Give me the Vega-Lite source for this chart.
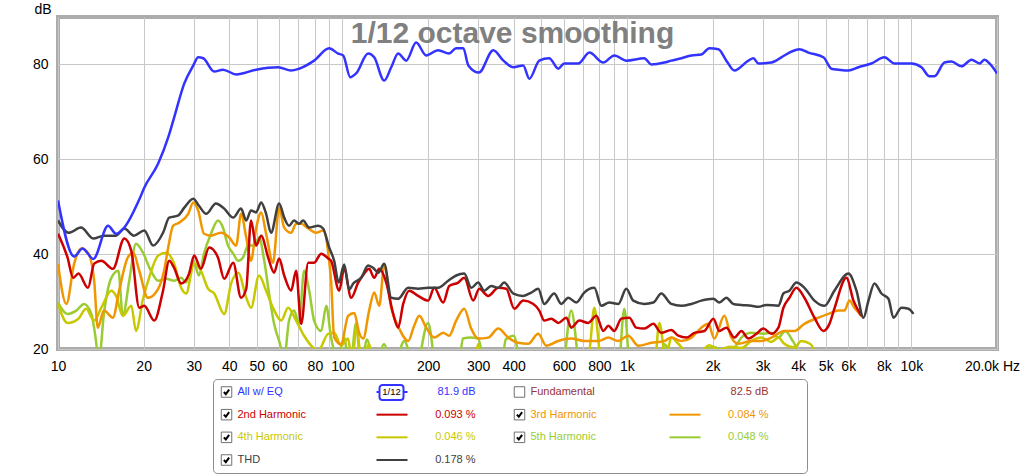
{
"$schema": "https://vega.github.io/schema/vega-lite/v6.json",
"padding": {"left": 30, "top": 0, "right": 0, "bottom": 0},
"config": {"view": {"stroke": null}, "font": "Liberation Sans"},
"resolve": {"scale": {"x": "independent", "y": "independent"}},
"spacing": 3,
"vconcat": [
{
"width": 939, "height": 332,
"view": {"stroke": "#acacac", "strokeWidth": 4},
"title": {"text": "1/12 octave smoothing", "font": "Liberation Sans", "fontSize": 30, "fontWeight": "bold", "color": "#808080", "anchor": "middle", "baseline": "alphabetic", "offset": 0, "dy": 71, "dx": -15},
"data": {"values": [
{"s":"H5","f":10,"d":29.8},{"s":"H5","f":10.8,"d":27.4},{"s":"H5","f":11.6,"d":28.1},{"s":"H5","f":12.35,"d":29.5},{"s":"H5","f":13.1,"d":27.4},{"s":"H5","f":13.6,"d":21.7},{"s":"H5","f":13.9,"d":17},{"s":"H5","f":14.5,"d":27.4},{"s":"H5","f":15.4,"d":35},{"s":"H5","f":16.3,"d":36.5},{"s":"H5","f":16.9,"d":27},{"s":"H5","f":17.8,"d":34.4},{"s":"H5","f":18.8,"d":42.2},{"s":"H5","f":19.9,"d":40.3},{"s":"H5","f":21.2,"d":36.5},{"s":"H5","f":22.5,"d":34.4},{"s":"H5","f":24,"d":34.8},{"s":"H5","f":25.6,"d":34.4},{"s":"H5","f":27.1,"d":35},{"s":"H5","f":28.2,"d":34},{"s":"H5","f":29.9,"d":38.6},{"s":"H5","f":31.3,"d":35.5},{"s":"H5","f":32.6,"d":40.1},{"s":"H5","f":34.5,"d":44.3},{"s":"H5","f":36.5,"d":47.1},{"s":"H5","f":38,"d":45.6},{"s":"H5","f":39.6,"d":41.8},{"s":"H5","f":41.3,"d":40.1},{"s":"H5","f":43,"d":38.6},{"s":"H5","f":44.7,"d":39.3},{"s":"H5","f":46.6,"d":41.8},{"s":"H5","f":48.9,"d":41.8},{"s":"H5","f":50.9,"d":43.5},{"s":"H5","f":53.1,"d":38.6},{"s":"H5","f":55.2,"d":31.7},{"s":"H5","f":57.5,"d":25.3},{"s":"H5","f":59.9,"d":21.7},{"s":"H5","f":62.4,"d":18},{"s":"H5","f":64.9,"d":26},{"s":"H5","f":67.6,"d":28.1},{"s":"H5","f":70.4,"d":25.3},{"s":"H5","f":73.3,"d":36.5},{"s":"H5","f":76.4,"d":32.3},{"s":"H5","f":79.5,"d":26},{"s":"H5","f":84.2,"d":23.8},{"s":"H5","f":87.7,"d":29.1},{"s":"H5","f":91.2,"d":22.4},{"s":"H5","f":96.6,"d":18},{"s":"H5","f":101.4,"d":22.4},{"s":"H5","f":106,"d":15},{"s":"H5","f":111.7,"d":25.5},{"s":"H5","f":116,"d":16},{"s":"H5","f":122,"d":22},{"s":"H5","f":130,"d":15},{"s":"H5","f":140,"d":21},{"s":"H5","f":150,"d":15},{"s":"H5","f":165,"d":21.7},{"s":"H5","f":180,"d":15},{"s":"H5","f":200,"d":25.5},{"s":"H5","f":215,"d":15},{"s":"H5","f":255,"d":15},{"s":"H5","f":265,"d":22.2},{"s":"H5","f":283,"d":22.4},{"s":"H5","f":300,"d":22.2},{"s":"H5","f":320,"d":15},{"s":"H5","f":360,"d":15},{"s":"H5","f":375,"d":22},{"s":"H5","f":400,"d":22.8},{"s":"H5","f":430,"d":15},{"s":"H5","f":590,"d":15},{"s":"H5","f":637,"d":28.1},{"s":"H5","f":690,"d":15},{"s":"H5","f":930,"d":15},{"s":"H5","f":979,"d":28.5},{"s":"H5","f":1030,"d":15},{"s":"H5","f":1300,"d":15},{"s":"H5","f":1350,"d":21},{"s":"H5","f":1432,"d":19.5},{"s":"H5","f":1550,"d":19},{"s":"H5","f":1700,"d":19.5},{"s":"H5","f":1827,"d":19.2},{"s":"H5","f":2014,"d":20.5},{"s":"H5","f":2200,"d":19.5},{"s":"H5","f":2400,"d":20.5},{"s":"H5","f":2526,"d":22.4},{"s":"H5","f":2739,"d":23.4},{"s":"H5","f":3018,"d":23.2},{"s":"H5","f":3220,"d":23.4},{"s":"H5","f":3408,"d":22.4},{"s":"H5","f":3600,"d":23.8},{"s":"H5","f":3800,"d":22},{"s":"H5","f":3943,"d":20},{"s":"H5","f":4050,"d":14},
{"s":"H4","f":10,"d":29.5},{"s":"H4","f":10.8,"d":25.5},{"s":"H4","f":11.8,"d":26.4},{"s":"H4","f":12.55,"d":28.5},{"s":"H4","f":13.4,"d":26},{"s":"H4","f":14.2,"d":28.7},{"s":"H4","f":15.4,"d":32.3},{"s":"H4","f":16,"d":31.2},{"s":"H4","f":16.9,"d":27},{"s":"H4","f":18.1,"d":29.1},{"s":"H4","f":18.8,"d":23.8},{"s":"H4","f":19.9,"d":30.6},{"s":"H4","f":20.9,"d":35},{"s":"H4","f":22.5,"d":39.7},{"s":"H4","f":24,"d":40.3},{"s":"H4","f":25.6,"d":38},{"s":"H4","f":27.1,"d":32.9},{"s":"H4","f":28.2,"d":31.7},{"s":"H4","f":30.1,"d":38},{"s":"H4","f":31.8,"d":36.5},{"s":"H4","f":33.7,"d":32.7},{"s":"H4","f":35.4,"d":31.7},{"s":"H4","f":38.4,"d":27.4},{"s":"H4","f":40.6,"d":33.8},{"s":"H4","f":43,"d":36.1},{"s":"H4","f":45.9,"d":30.8},{"s":"H4","f":47.7,"d":28.7},{"s":"H4","f":50.9,"d":35.5},{"s":"H4","f":53.9,"d":32.3},{"s":"H4","f":57,"d":28.7},{"s":"H4","f":60.9,"d":26},{"s":"H4","f":64.4,"d":28.7},{"s":"H4","f":68.7,"d":26},{"s":"H4","f":73.3,"d":22.8},{"s":"H4","f":78.9,"d":20.3},{"s":"H4","f":82.1,"d":19.6},{"s":"H4","f":89.1,"d":23.2},{"s":"H4","f":93.5,"d":23.4},{"s":"H4","f":98.9,"d":20.7},{"s":"H4","f":104.7,"d":22.2},{"s":"H4","f":108,"d":17},{"s":"H4","f":112,"d":24.5},{"s":"H4","f":117,"d":17},{"s":"H4","f":124,"d":21},{"s":"H4","f":130,"d":14},{"s":"H4","f":290,"d":14},{"s":"H4","f":300,"d":21},{"s":"H4","f":312,"d":14},{"s":"H4","f":700,"d":14},{"s":"H4","f":740,"d":20},{"s":"H4","f":768,"d":28.7},{"s":"H4","f":800,"d":20},{"s":"H4","f":830,"d":14},{"s":"H4","f":1240,"d":14},{"s":"H4","f":1300,"d":25.5},{"s":"H4","f":1370,"d":18},{"s":"H4","f":1432,"d":22.4},{"s":"H4","f":1516,"d":21.1},{"s":"H4","f":1618,"d":19.5},{"s":"H4","f":1800,"d":19.3},{"s":"H4","f":1950,"d":20.8},{"s":"H4","f":2100,"d":19.8},{"s":"H4","f":2300,"d":20.5},{"s":"H4","f":2526,"d":20.2},{"s":"H4","f":2739,"d":21.7},{"s":"H4","f":2970,"d":22.4},{"s":"H4","f":3220,"d":21.5},{"s":"H4","f":3408,"d":22.4},{"s":"H4","f":3576,"d":21.1},{"s":"H4","f":3880,"d":20.3},{"s":"H4","f":4100,"d":21.7},{"s":"H4","f":4400,"d":21.1},{"s":"H4","f":4560,"d":19.6},{"s":"H4","f":4700,"d":14},
{"s":"H3","f":10,"d":38},{"s":"H3","f":10.7,"d":29.5},{"s":"H3","f":11.4,"d":38},{"s":"H3","f":12.05,"d":41.2},{"s":"H3","f":12.75,"d":40.3},{"s":"H3","f":13.4,"d":34.4},{"s":"H3","f":13.8,"d":24.5},{"s":"H3","f":14.5,"d":28.1},{"s":"H3","f":15.6,"d":26.6},{"s":"H3","f":16.4,"d":32.3},{"s":"H3","f":17.6,"d":39.3},{"s":"H3","f":18.4,"d":40.3},{"s":"H3","f":19.3,"d":36.5},{"s":"H3","f":20.7,"d":30.8},{"s":"H3","f":22.5,"d":32.7},{"s":"H3","f":23.6,"d":36.5},{"s":"H3","f":24.4,"d":41.4},{"s":"H3","f":25.4,"d":46},{"s":"H3","f":26.6,"d":46.6},{"s":"H3","f":28.7,"d":48.5},{"s":"H3","f":29.9,"d":50.9},{"s":"H3","f":31.1,"d":49.2},{"s":"H3","f":32.6,"d":44.3},{"s":"H3","f":34.5,"d":43.9},{"s":"H3","f":37.4,"d":44.5},{"s":"H3","f":40,"d":43.5},{"s":"H3","f":42.3,"d":41.8},{"s":"H3","f":44,"d":48.5},{"s":"H3","f":45.9,"d":43.5},{"s":"H3","f":47.7,"d":38.6},{"s":"H3","f":49.7,"d":45.4},{"s":"H3","f":51.8,"d":48.8},{"s":"H3","f":53.9,"d":44.3},{"s":"H3","f":57,"d":38.2},{"s":"H3","f":59.9,"d":49.8},{"s":"H3","f":62.4,"d":45.6},{"s":"H3","f":66,"d":44.5},{"s":"H3","f":68.7,"d":46.4},{"s":"H3","f":71.6,"d":46.4},{"s":"H3","f":75.8,"d":45.4},{"s":"H3","f":80.8,"d":44.5},{"s":"H3","f":85.5,"d":45},{"s":"H3","f":89.8,"d":38.6},{"s":"H3","f":91.2,"d":34.4},{"s":"H3","f":93.5,"d":22.5},{"s":"H3","f":98.9,"d":21},{"s":"H3","f":104.7,"d":27},{"s":"H3","f":110,"d":27.6},{"s":"H3","f":114.5,"d":23.4},{"s":"H3","f":118.3,"d":22.2},{"s":"H3","f":124.1,"d":28.1},{"s":"H3","f":129.3,"d":31.9},{"s":"H3","f":134.7,"d":29.1},{"s":"H3","f":140.2,"d":37.6},{"s":"H3","f":148.4,"d":28.7},{"s":"H3","f":158.3,"d":24.3},{"s":"H3","f":170.2,"d":21.7},{"s":"H3","f":178.7,"d":24.9},{"s":"H3","f":186.2,"d":27},{"s":"H3","f":197,"d":24.5},{"s":"H3","f":210.2,"d":22.4},{"s":"H3","f":226.1,"d":23.4},{"s":"H3","f":237.3,"d":22.8},{"s":"H3","f":251.1,"d":26},{"s":"H3","f":268,"d":28.5},{"s":"H3","f":283.6,"d":24.3},{"s":"H3","f":300.1,"d":22.2},{"s":"H3","f":325.4,"d":22.4},{"s":"H3","f":352.9,"d":24.3},{"s":"H3","f":382.7,"d":22.4},{"s":"H3","f":415,"d":21.3},{"s":"H3","f":450,"d":21.1},{"s":"H3","f":487.9,"d":23.2},{"s":"H3","f":520.6,"d":20.7},{"s":"H3","f":573.9,"d":21.7},{"s":"H3","f":637.6,"d":22.2},{"s":"H3","f":708.2,"d":21.7},{"s":"H3","f":793.3,"d":21.7},{"s":"H3","f":860.2,"d":22.4},{"s":"H3","f":932.8,"d":21.7},{"s":"H3","f":1011,"d":22.8},{"s":"H3","f":1097,"d":20.7},{"s":"H3","f":1218,"d":21.3},{"s":"H3","f":1354,"d":21.7},{"s":"H3","f":1432,"d":22.4},{"s":"H3","f":1554,"d":21.7},{"s":"H3","f":1685,"d":22.4},{"s":"H3","f":1827,"d":24.5},{"s":"H3","f":1933,"d":25.3},{"s":"H3","f":2029,"d":22.2},{"s":"H3","f":2200,"d":27},{"s":"H3","f":2329,"d":22.4},{"s":"H3","f":2465,"d":21.1},{"s":"H3","f":2739,"d":21.7},{"s":"H3","f":2970,"d":21.7},{"s":"H3","f":3220,"d":22.4},{"s":"H3","f":3576,"d":23.8},{"s":"H3","f":3880,"d":23.8},{"s":"H3","f":4207,"d":25.3},{"s":"H3","f":4713,"d":26.6},{"s":"H3","f":5111,"d":27.4},{"s":"H3","f":5541,"d":28.1},{"s":"H3","f":5817,"d":28.1},{"s":"H3","f":6058,"d":30.2},{"s":"H3","f":6308,"d":28.7},{"s":"H3","f":6674,"d":27},
{"s":"H2","f":10,"d":44.3},{"s":"H2","f":10.8,"d":39.3},{"s":"H2","f":11.3,"d":35},{"s":"H2","f":11.8,"d":35.9},{"s":"H2","f":12.75,"d":32.9},{"s":"H2","f":13.4,"d":38},{"s":"H2","f":14.2,"d":38.6},{"s":"H2","f":15.6,"d":36.9},{"s":"H2","f":17.1,"d":43.3},{"s":"H2","f":18.1,"d":40.7},{"s":"H2","f":19.3,"d":28.7},{"s":"H2","f":20.1,"d":29.1},{"s":"H2","f":21.8,"d":26},{"s":"H2","f":23.4,"d":32.3},{"s":"H2","f":24.6,"d":38.6},{"s":"H2","f":25.6,"d":37.1},{"s":"H2","f":27.1,"d":33.8},{"s":"H2","f":28.9,"d":35.9},{"s":"H2","f":30.1,"d":39.7},{"s":"H2","f":31.8,"d":36.9},{"s":"H2","f":34,"d":41.4},{"s":"H2","f":36.5,"d":39.3},{"s":"H2","f":38.4,"d":34.8},{"s":"H2","f":41.3,"d":38.2},{"s":"H2","f":44,"d":30.8},{"s":"H2","f":45.9,"d":32.7},{"s":"H2","f":47.7,"d":47.1},{"s":"H2","f":49.7,"d":41.8},{"s":"H2","f":51.8,"d":43.9},{"s":"H2","f":54.8,"d":39.3},{"s":"H2","f":57.5,"d":36.1},{"s":"H2","f":59.9,"d":39.1},{"s":"H2","f":62.4,"d":35.5},{"s":"H2","f":66,"d":32.3},{"s":"H2","f":68.7,"d":36.5},{"s":"H2","f":71.6,"d":25.3},{"s":"H2","f":75.8,"d":38.2},{"s":"H2","f":79.5,"d":38.2},{"s":"H2","f":84.2,"d":40.1},{"s":"H2","f":89.1,"d":39.1},{"s":"H2","f":91.2,"d":38.6},{"s":"H2","f":97.4,"d":32.3},{"s":"H2","f":101.4,"d":36.9},{"s":"H2","f":107.3,"d":30.8},{"s":"H2","f":113.6,"d":34},{"s":"H2","f":119.2,"d":35.9},{"s":"H2","f":124.1,"d":36.9},{"s":"H2","f":129.3,"d":35},{"s":"H2","f":134.7,"d":36.9},{"s":"H2","f":142.5,"d":34},{"s":"H2","f":150.8,"d":27.4},{"s":"H2","f":157,"d":24.5},{"s":"H2","f":163.5,"d":29.5},{"s":"H2","f":171.6,"d":32.3},{"s":"H2","f":184.6,"d":31.2},{"s":"H2","f":200.2,"d":30.2},{"s":"H2","f":210.2,"d":32.9},{"s":"H2","f":226.1,"d":29.8},{"s":"H2","f":237.3,"d":33.3},{"s":"H2","f":255.2,"d":34},{"s":"H2","f":268,"d":35},{"s":"H2","f":288.3,"d":30.2},{"s":"H2","f":302.5,"d":32.7},{"s":"H2","f":325.4,"d":31.2},{"s":"H2","f":352.9,"d":32.9},{"s":"H2","f":376.6,"d":32.7},{"s":"H2","f":401.8,"d":28.5},{"s":"H2","f":432.1,"d":30.2},{"s":"H2","f":468.7,"d":29.5},{"s":"H2","f":491.9,"d":28.1},{"s":"H2","f":512.2,"d":26},{"s":"H2","f":542.3,"d":26.4},{"s":"H2","f":573.9,"d":25.5},{"s":"H2","f":612.3,"d":26.6},{"s":"H2","f":637.6,"d":24.5},{"s":"H2","f":680.2,"d":26},{"s":"H2","f":731.6,"d":25.5},{"s":"H2","f":780.5,"d":27},{"s":"H2","f":826.1,"d":23.8},{"s":"H2","f":860.2,"d":24.9},{"s":"H2","f":903.1,"d":23.8},{"s":"H2","f":955.6,"d":26.4},{"s":"H2","f":1020,"d":26.6},{"s":"H2","f":1079,"d":24.5},{"s":"H2","f":1151,"d":24.3},{"s":"H2","f":1238,"d":25.3},{"s":"H2","f":1321,"d":23.4},{"s":"H2","f":1432,"d":24},{"s":"H2","f":1516,"d":22.8},{"s":"H2","f":1618,"d":22.4},{"s":"H2","f":1727,"d":23.4},{"s":"H2","f":1872,"d":23.8},{"s":"H2","f":2014,"d":26.4},{"s":"H2","f":2113,"d":23.8},{"s":"H2","f":2237,"d":24.5},{"s":"H2","f":2387,"d":22.4},{"s":"H2","f":2526,"d":23.8},{"s":"H2","f":2673,"d":22.2},{"s":"H2","f":2852,"d":23.2},{"s":"H2","f":3018,"d":24.3},{"s":"H2","f":3220,"d":23.2},{"s":"H2","f":3408,"d":24.5},{"s":"H2","f":3549,"d":28.7},{"s":"H2","f":3726,"d":30.8},{"s":"H2","f":3943,"d":32.9},{"s":"H2","f":4207,"d":30.8},{"s":"H2","f":4562,"d":26.6},{"s":"H2","f":4907,"d":23.8},{"s":"H2","f":5152,"d":25.3},{"s":"H2","f":5363,"d":28.5},{"s":"H2","f":5911,"d":35},{"s":"H2","f":6258,"d":30.2},{"s":"H2","f":6674,"d":27},
{"s":"THD","f":10,"d":47.1},{"s":"THD","f":10.9,"d":44.5},{"s":"THD","f":12.05,"d":45.6},{"s":"THD","f":13.3,"d":43.3},{"s":"THD","f":14.5,"d":43.9},{"s":"THD","f":16,"d":43.9},{"s":"THD","f":17.1,"d":45.4},{"s":"THD","f":18.5,"d":43.9},{"s":"THD","f":20.1,"d":45},{"s":"THD","f":21.6,"d":41.8},{"s":"THD","f":23.4,"d":44.5},{"s":"THD","f":24.6,"d":47.7},{"s":"THD","f":26.4,"d":48.1},{"s":"THD","f":27.8,"d":49.8},{"s":"THD","f":29.9,"d":51.7},{"s":"THD","f":31.3,"d":50.2},{"s":"THD","f":33.2,"d":48.5},{"s":"THD","f":35.9,"d":50.7},{"s":"THD","f":38.4,"d":49.6},{"s":"THD","f":41.3,"d":47.7},{"s":"THD","f":44,"d":49.6},{"s":"THD","f":45.9,"d":47.1},{"s":"THD","f":47.7,"d":49.2},{"s":"THD","f":49.7,"d":48.8},{"s":"THD","f":51.8,"d":50.9},{"s":"THD","f":53.9,"d":48.5},{"s":"THD","f":56.1,"d":44.5},{"s":"THD","f":59.9,"d":50.7},{"s":"THD","f":62.4,"d":47.7},{"s":"THD","f":64.9,"d":46},{"s":"THD","f":67.6,"d":47.1},{"s":"THD","f":70.4,"d":46.4},{"s":"THD","f":72.7,"d":47.1},{"s":"THD","f":76.4,"d":45.6},{"s":"THD","f":82.1,"d":46},{"s":"THD","f":85.5,"d":45.4},{"s":"THD","f":89.8,"d":41.4},{"s":"THD","f":93.5,"d":38.6},{"s":"THD","f":97,"d":34},{"s":"THD","f":101.4,"d":37.8},{"s":"THD","f":105.6,"d":32.5},{"s":"THD","f":109.1,"d":33.8},{"s":"THD","f":116.4,"d":35},{"s":"THD","f":123.1,"d":37.6},{"s":"THD","f":128.2,"d":37.1},{"s":"THD","f":133.6,"d":36.1},{"s":"THD","f":140.2,"d":38},{"s":"THD","f":148.4,"d":30.8},{"s":"THD","f":157,"d":30.6},{"s":"THD","f":170.2,"d":32.9},{"s":"THD","f":184.6,"d":32.7},{"s":"THD","f":200.2,"d":32.9},{"s":"THD","f":217.1,"d":32.9},{"s":"THD","f":235.4,"d":34.4},{"s":"THD","f":251.1,"d":35.5},{"s":"THD","f":268,"d":35.9},{"s":"THD","f":283.6,"d":32.9},{"s":"THD","f":300,"d":34},{"s":"THD","f":315,"d":32.3},{"s":"THD","f":333,"d":33.3},{"s":"THD","f":353,"d":32.9},{"s":"THD","f":370,"d":34},{"s":"THD","f":399,"d":31.7},{"s":"THD","f":432,"d":31.2},{"s":"THD","f":461,"d":31.9},{"s":"THD","f":488,"d":32.7},{"s":"THD","f":512,"d":29.5},{"s":"THD","f":555,"d":31.7},{"s":"THD","f":588,"d":29.5},{"s":"THD","f":622,"d":30.8},{"s":"THD","f":664,"d":29.8},{"s":"THD","f":708,"d":31.9},{"s":"THD","f":768,"d":32.9},{"s":"THD","f":813,"d":29.1},{"s":"THD","f":867,"d":29.8},{"s":"THD","f":933,"d":29.5},{"s":"THD","f":995,"d":32.7},{"s":"THD","f":1053,"d":30.2},{"s":"THD","f":1151,"d":29.5},{"s":"THD","f":1238,"d":29.8},{"s":"THD","f":1321,"d":31.7},{"s":"THD","f":1432,"d":29.5},{"s":"THD","f":1554,"d":29.1},{"s":"THD","f":1685,"d":29.5},{"s":"THD","f":1827,"d":30.2},{"s":"THD","f":2014,"d":30.6},{"s":"THD","f":2113,"d":29.8},{"s":"THD","f":2237,"d":30.8},{"s":"THD","f":2367,"d":29.5},{"s":"THD","f":2526,"d":29.3},{"s":"THD","f":2739,"d":29.1},{"s":"THD","f":2899,"d":28.9},{"s":"THD","f":3093,"d":29.3},{"s":"THD","f":3408,"d":29.1},{"s":"THD","f":3549,"d":31.7},{"s":"THD","f":3726,"d":32.3},{"s":"THD","f":3943,"d":34},{"s":"THD","f":4207,"d":32.9},{"s":"THD","f":4562,"d":30.2},{"s":"THD","f":4947,"d":29.1},{"s":"THD","f":5363,"d":32.3},{"s":"THD","f":6008,"d":35.9},{"s":"THD","f":6412,"d":32.3},{"s":"THD","f":6785,"d":26.6},{"s":"THD","f":7066,"d":30.2},{"s":"THD","f":7417,"d":33.8},{"s":"THD","f":7849,"d":31.7},{"s":"THD","f":8306,"d":30.6},{"s":"THD","f":8649,"d":26.6},{"s":"THD","f":9230,"d":28.7},{"s":"THD","f":9768,"d":28.5},{"s":"THD","f":10171,"d":27.4},
{"s":"All","f":10,"d":51.3},{"s":"All","f":11.4,"d":39.5},{"s":"All","f":12.2,"d":41.2},{"s":"All","f":13.3,"d":39},{"s":"All","f":15,"d":46},{"s":"All","f":16,"d":44.3},{"s":"All","f":17.1,"d":45.6},{"s":"All","f":19.3,"d":51.5},{"s":"All","f":20.1,"d":54},{"s":"All","f":22.5,"d":59.1},{"s":"All","f":24.4,"d":64.6},{"s":"All","f":25.6,"d":68.8},{"s":"All","f":27.8,"d":76},{"s":"All","f":29.9,"d":79.8},{"s":"All","f":31.1,"d":81.5},{"s":"All","f":32.4,"d":81.3},{"s":"All","f":35.4,"d":78.5},{"s":"All","f":38,"d":78.9},{"s":"All","f":42.3,"d":77.9},{"s":"All","f":49.7,"d":78.9},{"s":"All","f":59.4,"d":79.4},{"s":"All","f":66,"d":78.7},{"s":"All","f":70.4,"d":79.1},{"s":"All","f":79.5,"d":80.8},{"s":"All","f":89.8,"d":83.4},{"s":"All","f":96.5,"d":82.3},{"s":"All","f":100.6,"d":81.9},{"s":"All","f":106.5,"d":77.3},{"s":"All","f":111.7,"d":78.1},{"s":"All","f":123.1,"d":82.3},{"s":"All","f":129.3,"d":81.5},{"s":"All","f":140.2,"d":76.6},{"s":"All","f":148.4,"d":79.4},{"s":"All","f":157,"d":82.3},{"s":"All","f":167.5,"d":80.8},{"s":"All","f":181.6,"d":84.6},{"s":"All","f":197,"d":81.9},{"s":"All","f":217,"d":83},{"s":"All","f":237,"d":82.3},{"s":"All","f":251,"d":83.4},{"s":"All","f":266,"d":83.4},{"s":"All","f":277,"d":79.8},{"s":"All","f":302,"d":78.3},{"s":"All","f":339,"d":83},{"s":"All","f":368,"d":80.8},{"s":"All","f":399,"d":79.4},{"s":"All","f":432,"d":79.8},{"s":"All","f":454,"d":77},{"s":"All","f":492,"d":80.8},{"s":"All","f":533,"d":81.3},{"s":"All","f":574,"d":79.1},{"s":"All","f":602,"d":80.2},{"s":"All","f":675,"d":80.2},{"s":"All","f":738,"d":82.5},{"s":"All","f":826,"d":80.4},{"s":"All","f":903,"d":81.9},{"s":"All","f":995,"d":80.8},{"s":"All","f":1151,"d":81.3},{"s":"All","f":1218,"d":80},{"s":"All","f":1354,"d":80.4},{"s":"All","f":1432,"d":80.8},{"s":"All","f":1554,"d":81.3},{"s":"All","f":1685,"d":81.9},{"s":"All","f":1827,"d":82.1},{"s":"All","f":1949,"d":83.4},{"s":"All","f":2097,"d":83.2},{"s":"All","f":2237,"d":80.8},{"s":"All","f":2387,"d":78.7},{"s":"All","f":2673,"d":80.8},{"s":"All","f":2783,"d":81.3},{"s":"All","f":2899,"d":80.2},{"s":"All","f":3220,"d":80.4},{"s":"All","f":3493,"d":81.5},{"s":"All","f":3788,"d":82.7},{"s":"All","f":4041,"d":83.2},{"s":"All","f":4346,"d":82.5},{"s":"All","f":4907,"d":81.5},{"s":"All","f":5236,"d":79.1},{"s":"All","f":5541,"d":78.9},{"s":"All","f":6008,"d":78.7},{"s":"All","f":6515,"d":79.4},{"s":"All","f":7236,"d":80.2},{"s":"All","f":8042,"d":81.5},{"s":"All","f":8719,"d":80.2},{"s":"All","f":10007,"d":80.2},{"s":"All","f":10851,"d":79.4},{"s":"All","f":11578,"d":77.5},{"s":"All","f":12057,"d":77.5},{"s":"All","f":13077,"d":80.4},{"s":"All","f":13836,"d":80.6},{"s":"All","f":15007,"d":79.6},{"s":"All","f":16274,"d":81},{"s":"All","f":17365,"d":80.2},{"s":"All","f":18077,"d":81},{"s":"All","f":18826,"d":80.2},{"s":"All","f":20000,"d":78.1}
]},
"mark": {"type": "line", "clip": true, "strokeWidth": 2.5, "interpolate": "monotone"},
"encoding": {
"x": {"field": "f", "type": "quantitative", "scale": {"type": "log", "domain": [10, 20000], "nice": false},
 "axis": {"values": [10,20,30,40,50,60,70,80,90,100,200,300,400,500,600,700,800,900,1000,2000,3000,4000,5000,6000,7000,8000,9000,10000,20000], "title": null, "grid": true, "gridColor": "#c8c8c8", "gridWidth": 1, "ticks": false, "domain": false, "labelFont": "Liberation Sans", "labelFontSize": 14, "labelColor": "#000000", "labelPadding": 10, "labelBaseline": "top", "labelOverlap": false, "labelFlush": false,
 "labelOffset": {"condition": {"test": "datum.value == 20000", "value": -5}, "value": 0},
 "labelExpr": "indexof([70,90,500,700,900,7000,9000], datum.value) >= 0 ? '' : (datum.value == 20000 ? '20.0k Hz' : (datum.value >= 1000 ? (datum.value / 1000) + 'k' : '' + datum.value))"}},
"y": {"field": "d", "type": "quantitative", "scale": {"domain": [20, 90], "nice": false, "zero": false},
 "axis": {"values": [20,40,60,80], "title": "dB", "grid": true, "gridColor": "#c8c8c8", "gridWidth": 1, "ticks": false, "domain": false, "labelFont": "Liberation Sans", "labelFontSize": 14, "labelColor": "#000000", "labelPadding": 10, "titleFont": "Liberation Sans", "titleFontSize": 14, "titleFontWeight": "normal", "titleColor": "#000000", "titleAngle": 0, "titleAlign": "right", "titleBaseline": "alphabetic", "titleX": -7, "titleY": -4}},
"color": {"field": "s", "type": "nominal", "scale": {"domain": ["All","Fund","H2","H3","H4","H5","THD"], "range": ["#3333ff","#993333","#cc0000","#f09600","#c8c800","#99cc33","#404040"]}, "legend": null}
}
},
{
"spacing": 0,
"hconcat": [
{"width": 154, "height": 94, "data": {"values": []}, "mark": "point", "encoding": {}},
{
"width": 594, "height": 94,
"view": {"stroke": "#8c8c8c", "strokeWidth": 1, "cornerRadius": 4},
"data": {"values": [
{"s":"All","label":"All w/ EQ","val":"81.9 dB","col":0,"row":0,"chk":1,"line":1},
{"s":"H2","label":"2nd Harmonic","val":"0.093 %","col":0,"row":1,"chk":1,"line":1},
{"s":"H4","label":"4th Harmonic","val":"0.046 %","col":0,"row":2,"chk":1,"line":1},
{"s":"THD","label":"THD","val":"0.178 %","col":0,"row":3,"chk":1,"line":1},
{"s":"Fund","label":"Fundamental","val":"82.5 dB","col":1,"row":0,"chk":0,"line":0},
{"s":"H3","label":"3rd Harmonic","val":"0.084 %","col":1,"row":1,"chk":1,"line":1},
{"s":"H5","label":"5th Harmonic","val":"0.048 %","col":1,"row":2,"chk":1,"line":1}
]},
"encoding": {
"x": {"field": "col", "type": "ordinal", "scale": {"type": "point", "domain": [0,1], "padding": 0.5137}, "axis": null},
"y": {"field": "row", "type": "ordinal", "scale": {"type": "point", "domain": [0,1,2,3], "padding": 0.573}, "axis": null}
},
"layer": [
{"mark": {"type": "point", "shape": "square", "size": 110, "filled": true, "fill": "#ffffff", "stroke": "#707070", "strokeWidth": 1, "opacity": 1, "xOffset": -137}},
{"transform": [{"filter": "datum.chk == 1"}], "mark": {"type": "point", "shape": "M-0.75,0L-0.2,0.6L0.75,-0.7", "size": 49, "filled": false, "color": "#000000", "strokeWidth": 2, "opacity": 1, "xOffset": -137}},
{"transform": [{"filter": "datum.line == 1"}], "mark": {"type": "rule", "strokeWidth": 2, "xOffset": 13, "x2Offset": 44}, "encoding": {"x2": {"field": "col"}, "color": {"field": "s", "type": "nominal", "legend": null}}},
{"transform": [{"filter": "datum.s == 'All'"}], "mark": {"type": "rect", "fill": "#ffffff", "stroke": "#3333ff", "strokeWidth": 2, "cornerRadius": 3, "xOffset": 16, "x2Offset": 40, "yOffset": -7, "y2Offset": 8}, "encoding": {"x2": {"field": "col"}, "y2": {"field": "row"}}},
{"transform": [{"filter": "datum.s == 'All'"}], "mark": {"type": "text", "text": "1/12", "dx": 28, "fontSize": 9.5, "color": "#000000", "font": "Liberation Sans", "baseline": "middle"}},
{"mark": {"type": "text", "align": "left", "dx": -126, "fontSize": 11, "baseline": "middle", "font": "Liberation Sans"}, "encoding": {"text": {"field": "label"}, "color": {"field": "s", "type": "nominal", "legend": null}}},
{"mark": {"type": "text", "align": "right", "dx": 112, "fontSize": 11, "baseline": "middle", "font": "Liberation Sans"}, "encoding": {"text": {"field": "val"}, "color": {"field": "s", "type": "nominal", "legend": null}}}
]
}
]
}
]
}
